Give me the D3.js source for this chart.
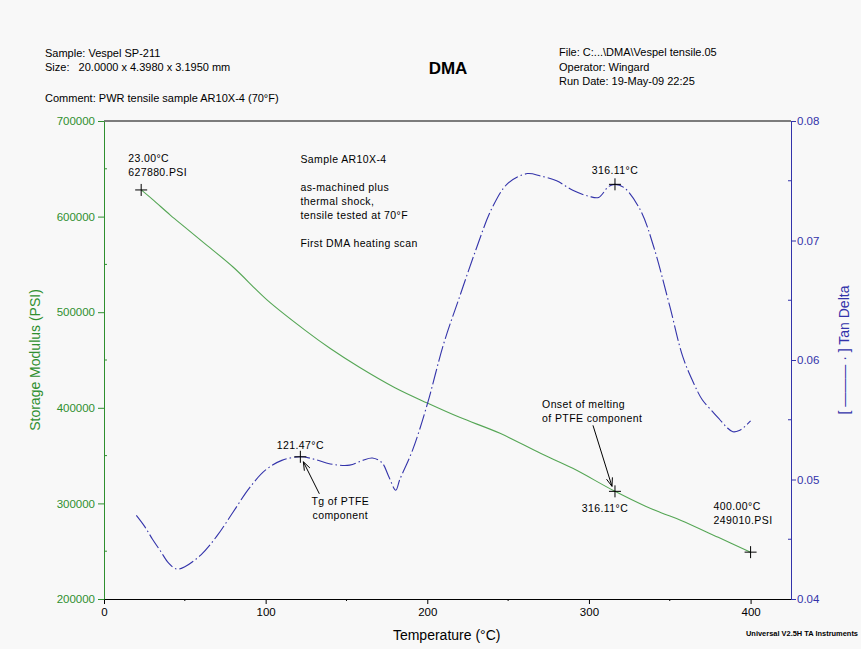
<!DOCTYPE html>
<html>
<head>
<meta charset="utf-8">
<script src="https://cdn.jsdelivr.net/npm/d3@7"></script>
<style>
body { margin: 0; background: #f8f8f8; }
text { font-family: "Liberation Sans", Arial, sans-serif; }
</style>
</head>
<body>
<script>
// storage modulus (green, left axis)
var modTemp = [23, 30, 41, 50, 62, 80, 101, 124.5, 140, 158, 180, 200, 220, 245, 270, 290, 316.11, 335, 345, 357, 380, 400];
var modulus = [627880, 618000, 601600, 589000, 572300, 547000, 512600, 481000, 462000, 442400, 421000, 405000, 390000, 373300, 352400, 336700, 312600, 297000, 290000, 282200, 264500, 249010];

// tan delta (blue, right axis)
var tanTemp = [20, 25, 30, 35, 40, 45, 50, 60, 70, 80, 90, 100, 110, 121.47, 130, 140, 152, 160, 166, 172, 176, 180.5, 183, 191, 200, 210, 220, 230, 240, 250, 262, 270, 280, 290, 300, 306, 312, 316.11, 322, 332, 340, 350, 358, 365, 370, 377, 381, 385, 389, 393, 397, 400];
var tanDelta = [0.0470, 0.0461, 0.0450, 0.0440, 0.0430, 0.0425, 0.0427, 0.0437, 0.0453, 0.0473, 0.0493, 0.0508, 0.0516, 0.0519, 0.0517, 0.0513, 0.0512, 0.0516, 0.0518, 0.0514, 0.0503, 0.0491, 0.0500, 0.0525, 0.0563, 0.0613, 0.0653, 0.0692, 0.0727, 0.0748, 0.0756, 0.0754, 0.0750, 0.0742, 0.0737, 0.0736, 0.0745, 0.0747, 0.0744, 0.0725, 0.0695, 0.0645, 0.0603, 0.0580, 0.0567, 0.0556, 0.0550, 0.0544, 0.0540, 0.0541, 0.0545, 0.0549];

var xTicks = [0, 100, 200, 300, 400];
var xMinor = [50, 150, 250, 350];
var modTicks = [200000, 300000, 400000, 500000, 600000, 700000];
var modMinor = [250000, 350000, 450000, 550000, 650000];
var tanTicks = [0.04, 0.05, 0.06, 0.07, 0.08];
var tanMinor = [0.045, 0.055, 0.065, 0.075];

var headerLeft = ["Sample: Vespel SP-211", "Size:   20.0000 x 4.3980 x 3.1950 mm"];
var headerRight = ["File: C:...\\DMA\\Vespel tensile.05", "Operator: Wingard", "Run Date: 19-May-09 22:25"];
var comment = "Comment: PWR tensile sample AR10X-4 (70\u00B0F)";
var noteLines = ["Sample AR10X-4", "", "as-machined plus", "thermal shock,", "tensile tested at 70\u00B0F", "", "First DMA heating scan"];

var W = 861, H = 649;
var margin = {top: 121, right: 70, bottom: 50, left: 104},
    width = W - margin.left - margin.right,
    height = H - margin.top - margin.bottom;

var green = "#2f8f2f", lineGreen = "#55a655", blue = "#3333aa";

var x = d3.scaleLinear().domain([0, 425]).range([0, width]);
var yMod = d3.scaleLinear().domain([200000, 700000]).range([height, 0]);
var yTan = d3.scaleLinear().domain([0.04, 0.08]).range([height, 0]);

var svg = d3.select("body").append("svg")
    .attr("width", W).attr("height", H)
    .style("background", "#f8f8f8");

// header texts
svg.append("g").selectAll("text").data(headerLeft).enter().append("text")
    .attr("x", 45).attr("y", function(d, i) { return 57 + i * 14; })
    .attr("font-size", 11).attr("xml:space", "preserve")
    .style("white-space", "pre")
    .text(function(d) { return d; });
svg.append("text").attr("x", 45).attr("y", 102).attr("font-size", 11).text(comment);
svg.append("g").selectAll("text").data(headerRight).enter().append("text")
    .attr("x", 559).attr("y", function(d, i) { return 56 + i * 14.5; })
    .attr("font-size", 11)
    .text(function(d) { return d; });
svg.append("text").attr("x", 448).attr("y", 74).attr("text-anchor", "middle")
    .attr("font-size", 17).attr("font-weight", "bold").text("DMA");

var g = svg.append("g").attr("transform", "translate(" + margin.left + "," + margin.top + ")");

// top frame line
g.append("line").attr("x1", 0).attr("x2", width).attr("y1", 0).attr("y2", 0)
    .attr("stroke", "#000");

// bottom axis
var xAxis = g.append("g").attr("transform", "translate(0," + height + ")")
    .call(d3.axisBottom(x).tickValues(xTicks).tickSize(5).tickSizeOuter(0).tickFormat(d3.format("d")));
xAxis.selectAll("text").attr("font-size", 11.5).attr("dy", "0.75em").attr("fill", "#000")
    .style("font-family", "'Liberation Sans', Arial, sans-serif");
g.append("g").selectAll("line").data(xMinor).enter().append("line")
    .attr("x1", x).attr("x2", x).attr("y1", height).attr("y2", height + 2).attr("stroke", "#000");

// left axis
var lAxis = g.append("g")
    .call(d3.axisLeft(yMod).tickValues(modTicks).tickSize(6).tickSizeOuter(0).tickFormat(d3.format("d")));
lAxis.selectAll("path, line").attr("stroke", green);
lAxis.selectAll("text").attr("fill", green).attr("font-size", 11.5)
    .style("font-family", "'Liberation Sans', Arial, sans-serif");
g.append("g").selectAll("line").data(modMinor).enter().append("line")
    .attr("x1", 0).attr("x2", 3).attr("y1", yMod).attr("y2", yMod).attr("stroke", green);

// right axis
var rAxis = g.append("g").attr("transform", "translate(" + width + ",0)")
    .call(d3.axisRight(yTan).tickValues(tanTicks).tickSize(5).tickSizeOuter(0).tickFormat(d3.format(".2f")));
rAxis.selectAll("path, line").attr("stroke", blue);
rAxis.selectAll("text").attr("fill", blue).attr("font-size", 11.5).attr("x", 6)
    .style("font-family", "'Liberation Sans', Arial, sans-serif");
g.append("g").selectAll("line").data(tanMinor).enter().append("line")
    .attr("x1", width).attr("x2", width - 3).attr("y1", yTan).attr("y2", yTan).attr("stroke", blue);

// axis titles
svg.append("text")
    .attr("transform", "translate(40," + (margin.top + height / 2) + ") rotate(-90)")
    .attr("text-anchor", "middle").attr("font-size", 14).attr("fill", green)
    .text("Storage Modulus (PSI)");
svg.append("text")
    .attr("x", margin.left + x(212)).attr("y", 640)
    .attr("text-anchor", "middle").attr("font-size", 14).attr("fill", "#000")
    .text("Temperature (\u00B0C)");
svg.append("text")
    .attr("transform", "translate(849," + (margin.top + height / 2 - 10) + ") rotate(-90)")
    .attr("text-anchor", "middle").attr("font-size", 14).attr("fill", blue)
    .text("[ \u2014\u2014\u2014 \u00B7 ] Tan Delta");
svg.append("text").attr("x", 746).attr("y", 636)
    .attr("font-size", 7.5).attr("font-weight", "bold")
    .style("font-family", "'Liberation Sans Narrow', 'Liberation Sans', sans-serif")
    .attr("textLength", 112).attr("lengthAdjust", "spacingAndGlyphs")
    .text("Universal V2.5H TA Instruments");

// curves
var modData = modTemp.map(function(t, i) { return [t, modulus[i]]; });
var tanData = tanTemp.map(function(t, i) { return [t, tanDelta[i]]; });

g.append("path").datum(modData)
    .attr("fill", "none").attr("stroke", lineGreen).attr("stroke-width", 1.1)
    .attr("d", d3.line().x(function(d) { return x(d[0]); }).y(function(d) { return yMod(d[1]); })
        .curve(d3.curveCatmullRom));

g.append("path").datum(tanData)
    .attr("fill", "none").attr("stroke", blue).attr("stroke-width", 1.1)
    .attr("stroke-dasharray", "16,3,1.5,3")
    .attr("d", d3.line().x(function(d) { return x(d[0]); }).y(function(d) { return yTan(d[1]); })
        .curve(d3.curveCatmullRom));

// crosshair markers
var marks = [
  {t: 23, v: 627880, s: yMod},
  {t: 400, v: 249010, s: yMod},
  {t: 316.11, v: 312600, s: yMod},
  {t: 121.47, v: 0.0519, s: yTan},
  {t: 316.11, v: 0.0747, s: yTan}
];
marks.forEach(function(m) {
  var cx = x(m.t), cy = m.s(m.v);
  g.append("line").attr("x1", cx - 6).attr("x2", cx + 6).attr("y1", cy).attr("y2", cy).attr("stroke", "#000");
  g.append("line").attr("x1", cx).attr("x2", cx).attr("y1", cy - 6).attr("y2", cy + 6).attr("stroke", "#000");
  m.cx = cx; m.cy = cy;
});

function label(lines, px, py, anchor) {
  g.append("g").selectAll("text").data(lines).enter().append("text")
    .attr("x", px).attr("y", function(d, i) { return py + i * 14; })
    .attr("text-anchor", anchor || "start")
    .attr("font-size", 10.5).style("letter-spacing", "0.4px")
    .text(function(d) { return d; });
}
label(["23.00\u00B0C", "627880.PSI"], marks[0].cx - 13, marks[0].cy - 28);
label(["400.00\u00B0C", "249010.PSI"], marks[1].cx - 37, marks[1].cy - 42);
label(["316.11\u00B0C"], marks[2].cx - 10, marks[2].cy + 21, "middle");
label(["121.47\u00B0C"], marks[3].cx, marks[3].cy - 8, "middle");
label(["316.11\u00B0C"], marks[4].cx, marks[4].cy - 10, "middle");
label(noteLines, x(121.5), yMod(660000) + 4);
label(["Onset of melting", "of PTFE component"], x(271), marks[2].cy - 83);
label(["Tg of PTFE", "component"], marks[3].cx + 40, marks[3].cy + 48, "middle");

// arrows
function arrow(x1, y1, x2, y2) {
  var a = Math.atan2(y2 - y1, x2 - x1), L = 9, sp = 0.35;
  g.append("line").attr("x1", x1).attr("y1", y1).attr("x2", x2).attr("y2", y2).attr("stroke", "#000");
  g.append("path")
    .attr("d", "M" + (x2 - L * Math.cos(a - sp)) + "," + (y2 - L * Math.sin(a - sp)) +
               "L" + x2 + "," + y2 +
               "L" + (x2 - L * Math.cos(a + sp)) + "," + (y2 - L * Math.sin(a + sp)))
    .attr("fill", "none").attr("stroke", "#000");
}
arrow(marks[2].cx - 22, marks[2].cy - 66, marks[2].cx - 3, marks[2].cy - 5);
arrow(marks[3].cx + 19, marks[3].cy + 37, marks[3].cx + 3, marks[3].cy + 5);
</script>
</body>
</html>
